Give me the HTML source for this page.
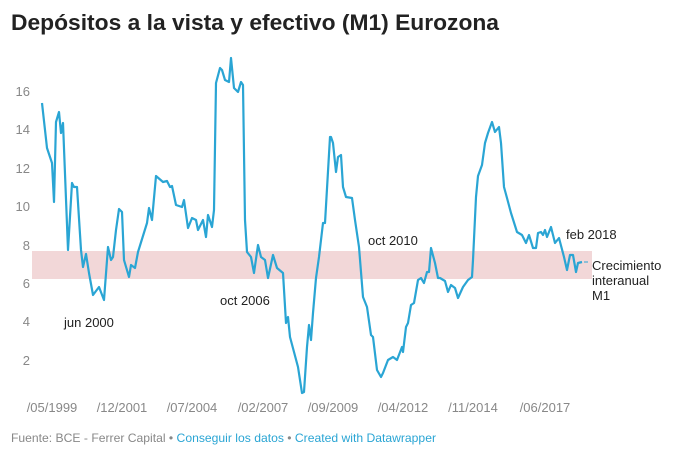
<!DOCTYPE html>
<html><head><meta charset="utf-8"><style>
html,body{margin:0;padding:0;background:#fff;}
svg{display:block;font-family:"Liberation Sans",sans-serif;}
</style></head><body>
<svg width="680" height="452" viewBox="0 0 680 452">
<text x="11" y="30" font-size="22" font-weight="bold" fill="#222" textLength="488" lengthAdjust="spacingAndGlyphs">Depósitos a la vista y efectivo (M1) Eurozona</text>
<rect x="32" y="251" width="560" height="28" fill="#f2d7d8"/>
<g font-size="13" fill="#888" text-anchor="end">
<text x="30" y="96">16</text><text x="30" y="134">14</text><text x="30" y="173">12</text><text x="30" y="211">10</text><text x="30" y="250">8</text><text x="30" y="288">6</text><text x="30" y="326">4</text><text x="30" y="365">2</text>
</g>
<g font-size="13" fill="#888" text-anchor="middle">
<text x="52" y="412">/05/1999</text><text x="122" y="412">/12/2001</text><text x="192" y="412">/07/2004</text><text x="263" y="412">/02/2007</text><text x="333" y="412">/09/2009</text><text x="403" y="412">/04/2012</text><text x="473" y="412">/11/2014</text><text x="545" y="412">/06/2017</text>
</g>
<polyline fill="none" stroke="#2aa5d4" stroke-width="2.2" stroke-linejoin="round" points="42,103 47,148 52,163 54,202 56,122 59,112 61,133 63,123 68,250 72,183 74,187 77,187 81,250 83,267 86,254 89,273 93,295 99,287 104,300 108,247 111,260 113,257 116,230 119,209 122,212 124,260 129,277 131,265 135,268 138,252 147,223 149,208 152,220 156,176 163,182 167,181 170,187 172,186 176,205 182,207 184,200 188,228 192,218 196,220 198,230 203,220 206,237 208,215 212,227 214,210 216,83 220,68 222,70 225,80 229,82 231,58 234,88 238,92 241,82 243,85 245,220 247,252 251,257 254,273 258,245 261,257 265,260 268,278 273,255 277,268 283,273 286,323 288,317 290,337 298,367 302,393 304,392 307,347 309,325 311,340 313,313 316,278 319,257 323,223 325,223 330,137 331,137 333,143 336,172 338,157 341,155 343,187 346,197 352,198 355,220 359,247 363,297 367,307 371,335 373,337 377,370 381,377 383,373 388,360 393,357 397,360 402,347 403,352 406,327 408,323 411,305 414,303 418,280 421,278 424,283 427,272 429,272 431,248 435,263 438,278 440,278 445,281 448,292 451,285 455,288 458,298 463,287 468,280 472,277 473,260 476,197 478,176 482,165 485,143 488,133 492,122 495,132 499,127 501,143 504,187 507,198 511,213 517,232 522,235 526,243 529,235 533,248 536,248 538,233 541,232 543,235 545,230 547,237 551,227 555,243 559,238 564,257 567,270 570,255 573,255 576,272 578,263 582,262"/>
<line x1="584" y1="262" x2="588" y2="262" stroke="#2aa5d4" stroke-width="1"/>
<g font-size="13" fill="#222">
<text x="64" y="327">jun 2000</text>
<text x="220" y="305">oct 2006</text>
<text x="368" y="245">oct 2010</text>
<text x="566" y="239">feb 2018</text>
<text x="592" y="270">Crecimiento</text>
<text x="592" y="285">interanual</text>
<text x="592" y="300">M1</text>
</g>
<text x="11" y="442" font-size="12" fill="#888" textLength="425" lengthAdjust="spacingAndGlyphs">Fuente: BCE - Ferrer Capital • <tspan fill="#2aa5d4">Conseguir los datos</tspan> • <tspan fill="#2aa5d4">Created with Datawrapper</tspan></text>
</svg>
</body></html>
